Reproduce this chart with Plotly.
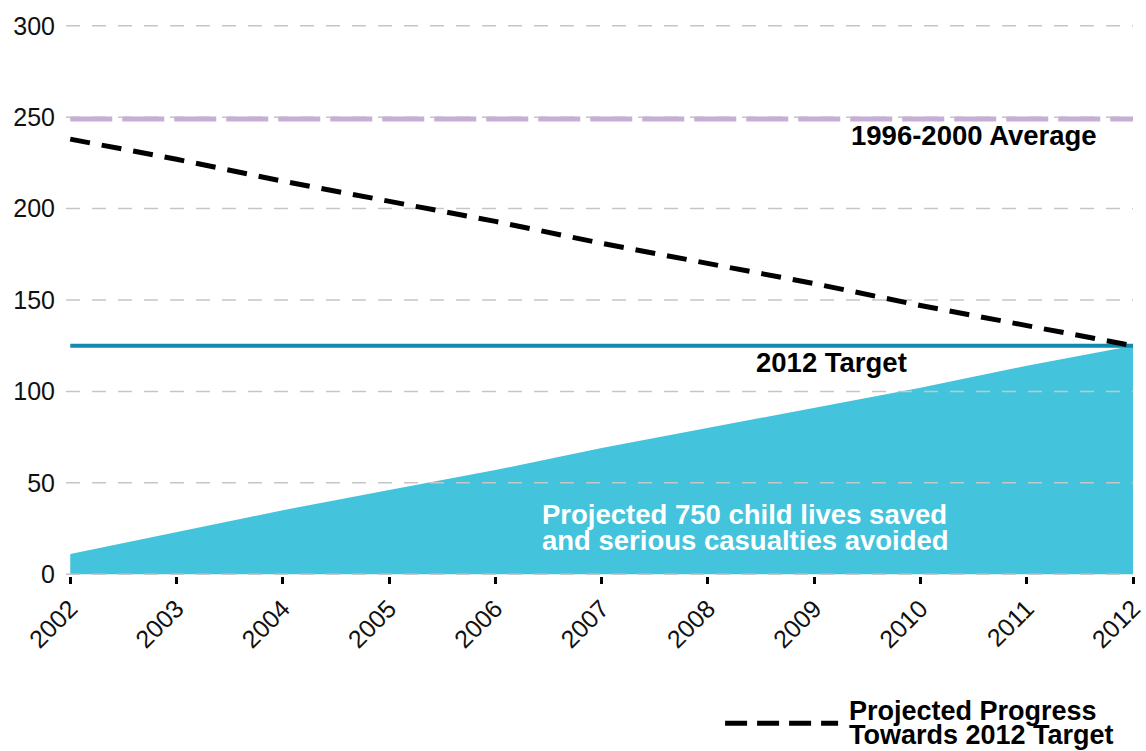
import plotly.graph_objects as go

years = [2002, 2003, 2004, 2005, 2006, 2007, 2008, 2009, 2010, 2011, 2012]
lives_saved = [11, 23, 35, 46, 57, 69, 80, 91, 102, 114, 125]
projected_progress = [238, 227, 215, 204, 193, 181, 170, 159, 147, 136, 125]
average_1996_2000 = 249
target_2012 = 125
y_ticks = [0, 50, 100, 150, 200, 250, 300]

X0, X1 = 2001.96, 2012.0
FONT = "Liberation Sans, Arial, sans-serif"

fig = go.Figure()

# filled area: projected lives saved
fig.add_trace(go.Scatter(
    x=years, y=lives_saved, mode="lines", fill="tozeroy",
    fillcolor="#43c4dc", line=dict(color="#43c4dc", width=0),
    showlegend=False, hoverinfo="skip"))

# gridlines drawn over the fill
for v in y_ticks:
    fig.add_trace(go.Scatter(
        x=[X0, X1], y=[v, v], mode="lines",
        line=dict(color="#c6c6c6", width=1.5, dash="14px,12px"),
        showlegend=False, hoverinfo="skip"))

# 1996-2000 average
fig.add_trace(go.Scatter(
    x=[years[0], years[-1]], y=[average_1996_2000] * 2, mode="lines",
    line=dict(color="#c6aed6", width=5, dash="42px,10px"),
    showlegend=False))

# 2012 target
fig.add_trace(go.Scatter(
    x=[years[0], years[-1]], y=[target_2012] * 2, mode="lines",
    line=dict(color="#1389ad", width=4),
    showlegend=False))

# projected progress
fig.add_trace(go.Scatter(
    x=years, y=projected_progress, mode="lines",
    line=dict(color="#000000", width=5, dash="20px,12px"),
    showlegend=False))

SZ = 27.5
ann_font = dict(family=FONT, size=SZ, color="#000000")
leg_font = dict(family=FONT, size=27, color="#000000")
white_font = dict(family=FONT, size=SZ, color="#ffffff")


def label(x, y, text, xanchor, font, xref="x", yref="y"):
    fig.add_annotation(x=x, y=y, xref=xref, yref=yref, text="<b>" + text + "</b>",
                       showarrow=False, xanchor=xanchor, yanchor="middle",
                       font=font, borderpad=0)


label(2011.67, 240, "1996-2000 Average", "right", ann_font)
label(2009.16, 116, "2012 Target", "center", ann_font)
label(2006.43, 32.5, "Projected 750 child lives saved", "left", white_font)
label(2006.43, 18.6, "and serious casualties avoided", "left", white_font)

# legend key
fig.add_shape(type="line", xref="paper", yref="paper", x0=0.6177, x1=0.7236, y0=-0.2668, y1=-0.2668,
              line=dict(color="#000000", width=5, dash="22px,10px"))
label(0.733, -0.2451, "Projected Progress", "left", leg_font, "paper", "paper")
label(0.733, -0.2885, "Towards 2012 Target", "left", leg_font, "paper", "paper")

fig.update_layout(
    width=1146, height=751,
    margin=dict(l=65.7, r=13, t=24.2, b=175.2, autoexpand=False),
    plot_bgcolor="white", paper_bgcolor="white",
    font=dict(family=FONT, size=24, color="#111111"),
    showlegend=False,
)
fig.update_xaxes(range=[X0, X1], tickvals=years, ticktext=[str(y) for y in years],
                 tickangle=-45, ticks="outside", ticklen=7, tickwidth=2.5, tickcolor="#000000",
                 showgrid=False, zeroline=False, showline=False, automargin=False,
                 tickfont=dict(size=25, color="#111111"))
fig.update_yaxes(range=[-1, 301], tickvals=y_ticks, showgrid=False, zeroline=False,
                 showline=False, ticks="", ticklabelstandoff=10, automargin=False,
                 tickfont=dict(size=25, color="#111111"))

fig.write_html("out.html")
